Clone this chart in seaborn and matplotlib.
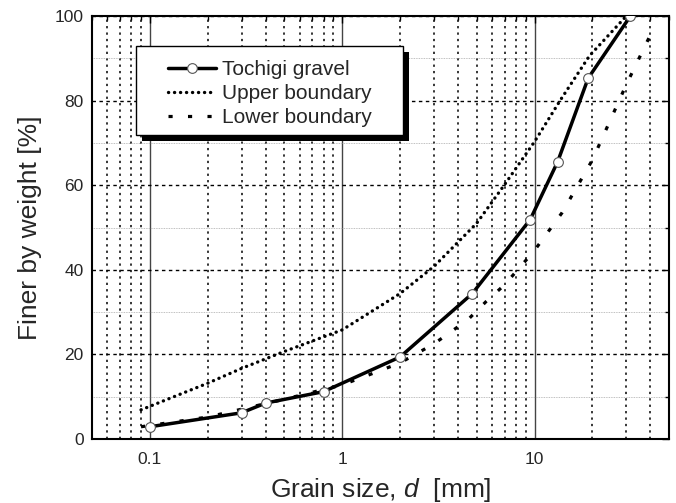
import numpy as np
import matplotlib
matplotlib.use('Agg')
import matplotlib.pyplot as plt
from matplotlib.patches import Rectangle
from matplotlib.ticker import LogLocator, FixedLocator, FuncFormatter
import seaborn as sns

# 粒径加積曲線のデータ
gravel_mm = [0.1, 0.3, 0.4, 0.8, 2.0, 4.75, 9.5, 13.2, 19.0, 31.5]
gravel_pct = [2.9, 6.2, 8.5, 11.2, 19.4, 34.4, 51.9, 65.6, 85.3, 100]

upper_mm = [0.09, 0.2, 0.3, 0.5, 1, 2, 3, 5, 7, 10, 13.7, 19.3, 30]
upper_pct = [6.9, 13.2, 16.7, 20.7, 25.8, 34.4, 40.8, 51.0, 60.2, 70.3, 80.3, 90.6, 100]

lower_mm = [0.09, 0.2, 0.5, 1, 1.5, 2, 3, 4.5, 5.6, 7, 10, 13.9, 20, 30, 42]
lower_pct = [2.9, 5.2, 9.4, 12.8, 15.8, 18.0, 22.5, 28.2, 32.5, 36.5, 44.6, 53.5, 66.0, 83.8, 97.5]

x_ticks = [0.1, 1, 10]
y_ticks = [0, 20, 40, 60, 80, 100]

sns.set_style('white')
plt.rcParams['font.family'] = ['Liberation Sans', 'DejaVu Sans']
plt.rcParams['mathtext.fontset'] = 'custom'
plt.rcParams['mathtext.it'] = 'Liberation Sans:italic'
plt.rcParams['mathtext.rm'] = 'Liberation Sans'

fig, ax = plt.subplots(figsize=(6.76, 5.03), dpi=100)
fig.subplots_adjust(left=0.136, right=0.9896, top=0.968, bottom=0.1272)

# 3本の曲線
sns.lineplot(x=upper_mm, y=upper_pct, ax=ax, color='black', lw=2.4,
             linestyle=(0, (0.05, 1.75)), dash_capstyle='round',
             label='Upper boundary', zorder=3, sort=False)
sns.lineplot(x=lower_mm, y=lower_pct, ax=ax, color='black', lw=2.3,
             linestyle=(0, (1.3, 4.8)), dash_capstyle='butt',
             label='Lower boundary', zorder=3, sort=False)
sns.lineplot(x=gravel_mm, y=gravel_pct, ax=ax, color='black', lw=2.5,
             marker='o', markersize=7, markerfacecolor='white',
             markeredgecolor='#555555', markeredgewidth=0.8,
             label='Tochigi gravel', zorder=4, sort=False)

ax.set_xscale('log')
ax.set_xlim(0.05, 50)
ax.set_ylim(0, 100)

ax.xaxis.set_major_locator(FixedLocator(x_ticks))
ax.xaxis.set_major_formatter(FuncFormatter(lambda v, p: f'{v:g}'))
ax.xaxis.set_minor_locator(LogLocator(base=10, subs=np.arange(2, 10)))
ax.xaxis.set_minor_formatter(plt.NullFormatter())
ax.yaxis.set_major_locator(FixedLocator(y_ticks))
ax.yaxis.set_minor_locator(FixedLocator([10, 30, 50, 70, 90]))

ax.tick_params(which='both', direction='in', top=True, right=True,
               width=1.0, color='black')
ax.tick_params(which='major', length=5, labelsize=12.5, pad=9)
ax.tick_params(which='minor', length=3)
ax.tick_params(axis='y', which='major', pad=6)

# グリッド
ax.grid(axis='x', which='major', color='#444444', lw=1.0, ls='-')
ax.grid(axis='x', which='minor', color='black', lw=1.1, ls=(0, (1.5, 2.7)))
ax.grid(axis='y', which='major', color='black', lw=1.0, ls=(0, (2.5, 2.5)))
ax.grid(axis='y', which='minor', color='#aaaaaa', lw=0.6, ls=(0, (1, 1)))
ax.set_axisbelow(True)

for s in ax.spines.values():
    s.set_linewidth(1.5)
    s.set_color('black')

ax.set_xlabel('Grain size, $d$  [mm]', fontsize=19, labelpad=7)
ax.set_ylabel('Finer by weight [%]', fontsize=19, labelpad=9)

# 凡例（影付きの枠）
bx0, bx1, by0, by1 = 0.0763, 0.539, 0.7187, 0.929
shadow = Rectangle((bx0 + 0.0104, by0 - 0.0142), bx1 - bx0, by1 - by0,
                   transform=ax.transAxes, facecolor='black', edgecolor='none', zorder=5)
frame = Rectangle((bx0, by0), bx1 - bx0, by1 - by0, transform=ax.transAxes,
                  facecolor='white', edgecolor='black', lw=1.0, zorder=6)
ax.add_patch(shadow)
ax.add_patch(frame)

handles, labels = ax.get_legend_handles_labels()
order = [2, 0, 1]
leg = ax.legend([handles[i] for i in order], [labels[i] for i in order],
                loc='center left', bbox_to_anchor=(0.132, 0.8168),
                frameon=False, fontsize=15, handlelength=2.3, handletextpad=0.3,
                labelspacing=0.24, borderpad=0, borderaxespad=0)
leg.set_zorder(7)

fig.savefig('out.png', dpi=100)
